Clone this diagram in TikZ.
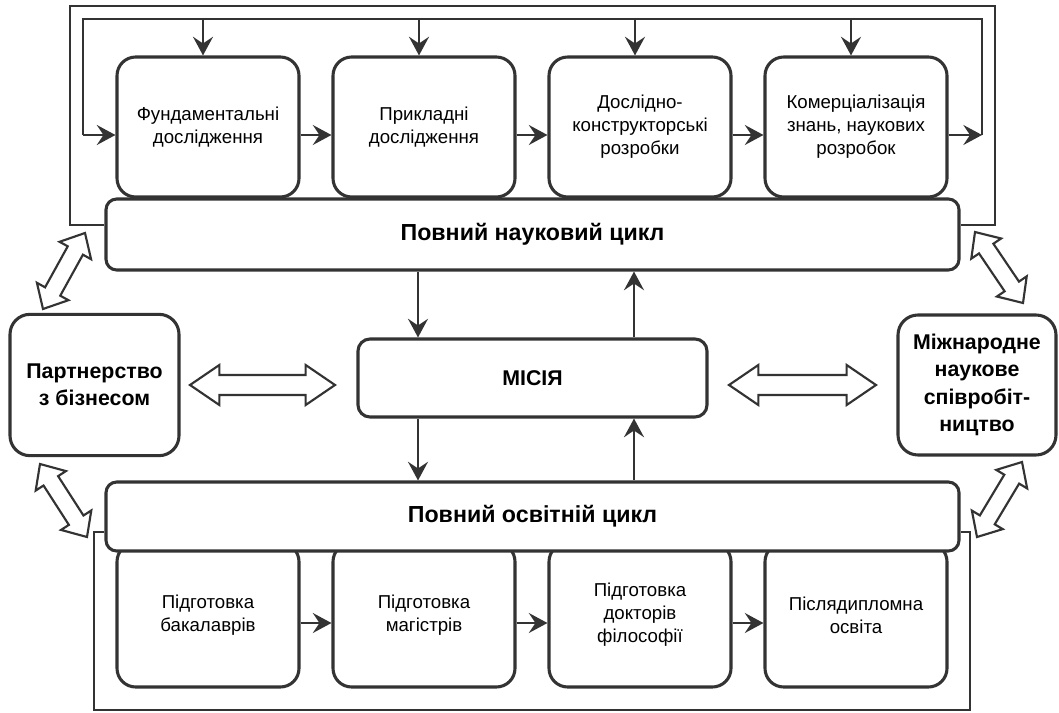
\documentclass[tikz,border=0pt]{standalone}
\usepackage{fontspec}
\setmainfont{Liberation Sans}
\usetikzlibrary{calc,arrows.meta}
\definecolor{ln}{HTML}{333333}
\newcommand\blkarrow[5]{%
  \draw[blk] (#1) -- ($(#1)!#3!(#2)!#4!90:(#2)$) -- ($(#1)!#3!(#2)!#5!90:(#2)$)
    -- ($(#2)!#3!(#1)!#5!-90:(#1)$) -- ($(#2)!#3!(#1)!#4!-90:(#1)$) -- (#2)
    -- ($(#2)!#3!(#1)!#4!90:(#1)$) -- ($(#2)!#3!(#1)!#5!90:(#1)$)
    -- ($(#1)!#3!(#2)!#5!-90:(#2)$) -- ($(#1)!#3!(#2)!#4!-90:(#2)$) -- cycle;}
\begin{document}
\begin{tikzpicture}[x=0.75pt,y=-0.75pt,
  box/.style={draw=ln, line width=2.3pt, fill=white, align=center, inner sep=1pt,
    text=black},
  stepbox/.style={box, rounded corners=14pt, minimum width=136.5pt,
    font=\fontsize{14}{17.25}\selectfont},
  topbox/.style={stepbox, minimum height=105pt},
  botbox/.style={stepbox, minimum height=108pt},
  cyclebox/.style={box, rounded corners=8pt, minimum width=639.75pt,
    font=\bfseries\fontsize{17.4}{20}\selectfont},
  sidebox/.style={box, rounded corners=15pt, minimum height=106pt,
    font=\bfseries\fontsize{16}{20.5}\selectfont},
  wire/.style={draw=ln, line width=1.6pt},
  arr/.style={wire, -{Stealth[length=14pt,width=15pt,inset=5pt]}},
  blk/.style={draw=ln, line width=1.6pt, fill=white, line join=miter}]
\useasboundingbox (0,0) rectangle (1059,713);

% frame corner points
\coordinate (oL) at (70,6);
\coordinate (oR) at (995,6);
\coordinate (oLb) at (70,225);
\coordinate (oRb) at (995,225);
\coordinate (bL) at (94,532);
\coordinate (bR) at (970,532);
\coordinate (bLb) at (94,710);
\coordinate (bRb) at (970,710);

% top boxes
\node[topbox] (t1) at (208,127) {Фундаментальні\\дослідження};
\node[topbox] (t2) at (424,127) {Прикладні\\дослідження};
\node[topbox] (t3) at (640,127) {Дослідно-\\конструкторські\\розробки};
\node[topbox] (t4) at (856,127) {Комерціалізація\\знань, наукових\\розробок};

% bottom boxes
\node[botbox] (e1) at (208,615) {Підготовка\\бакалаврів};
\node[botbox] (e2) at (424,615) {Підготовка\\магістрів};
\node[botbox] (e3) at (640,615) {Підготовка\\докторів\\філософії};
\node[botbox] (e4) at (856,615) {Післядипломна\\освіта};

% cycle boxes
\node[cyclebox, minimum height=53.25pt] (sci) at (532.5,234.5) {Повний науковий цикл};
\node[cyclebox, minimum height=51.75pt] (edu) at (532.5,516.5) {Повний освітній цикл};
\draw[wire] (oLb -| sci.west) -- (oLb) -- (oL) -- (oR) -- (oRb) -- (oRb -| sci.east);
\draw[wire] (bL -| edu.west) -- (bL) -- (bLb) -- (bRb) -- (bR) -- (bR -| edu.east);

% mission and side boxes
\node[box, rounded corners=9pt, minimum width=261.75pt, minimum height=58.5pt,
  font=\bfseries\fontsize{16}{20}\selectfont] (mis) at (532.5,378) {МІСІЯ};
\node[sidebox, minimum width=126.75pt] (par) at (94.5,385) {Партнерство\\з бізнесом};
\node[sidebox, minimum width=118.5pt, minimum height=105pt] (int) at (977,385)
  {Міжнародне\\наукове\\співробіт-\\ництво};

% feedback loop of the science cycle
\coordinate (L1) at (83,19);
\coordinate (R1) at (982,19);
\coordinate (Lc) at (83,135);
\coordinate (Rc) at (982,135);
\draw[arr] (Rc -| t4.east) -- (Rc);
\draw[wire] (Rc) -- (R1) -- (L1) -- (Lc);
\draw[arr] (Lc) -- (Lc -| t1.west);
\foreach \i/\x in {1/203,2/419,3/635,4/851}{
  \coordinate (d\i) at (\x,19);
  \draw[arr] (d\i) -- (d\i |- t\i.north);
}
\draw[arr] (Lc -| t1.east) -- (Lc -| t2.west);
\draw[arr] (Lc -| t2.east) -- (Lc -| t3.west);
\draw[arr] (Lc -| t3.east) -- (Lc -| t4.west);

% education chain
\coordinate (Ec) at (0,623);
\draw[arr] (Ec -| e1.east) -- (Ec -| e2.west);
\draw[arr] (Ec -| e2.east) -- (Ec -| e3.west);
\draw[arr] (Ec -| e3.east) -- (Ec -| e4.west);

% vertical links to mission
\coordinate (xa) at (418,0);
\coordinate (xb) at (634,0);
\draw[arr] (xa |- sci.south) -- (xa |- mis.north);
\draw[arr] (xb |- mis.north) -- (xb |- sci.south);
\draw[arr] (xa |- mis.south) -- (xa |- edu.north);
\draw[arr] (xb |- edu.north) -- (xb |- mis.south);

% block double arrows
\coordinate (pa1) at (190,385); \coordinate (pa2) at (335,385);
\coordinate (pb1) at (729,385); \coordinate (pb2) at (876,385);
\coordinate (da1) at (43,309);  \coordinate (da2) at (85,233);
\coordinate (db1) at (40,464);  \coordinate (db2) at (87,537);
\coordinate (dc1) at (975,232); \coordinate (dc2) at (1023,303);
\coordinate (dd1) at (1022,462); \coordinate (dd2) at (977,537);
\blkarrow{pa1}{pa2}{22pt}{15pt}{7.5pt}
\blkarrow{pb1}{pb2}{22pt}{15pt}{7.5pt}
\blkarrow{da1}{da2}{15pt}{13.5pt}{6.5pt}
\blkarrow{db1}{db2}{15pt}{13.5pt}{6.5pt}
\blkarrow{dc1}{dc2}{15pt}{13.5pt}{6.5pt}
\blkarrow{dd1}{dd2}{15pt}{13.5pt}{6.5pt}
\end{tikzpicture}
\end{document}
